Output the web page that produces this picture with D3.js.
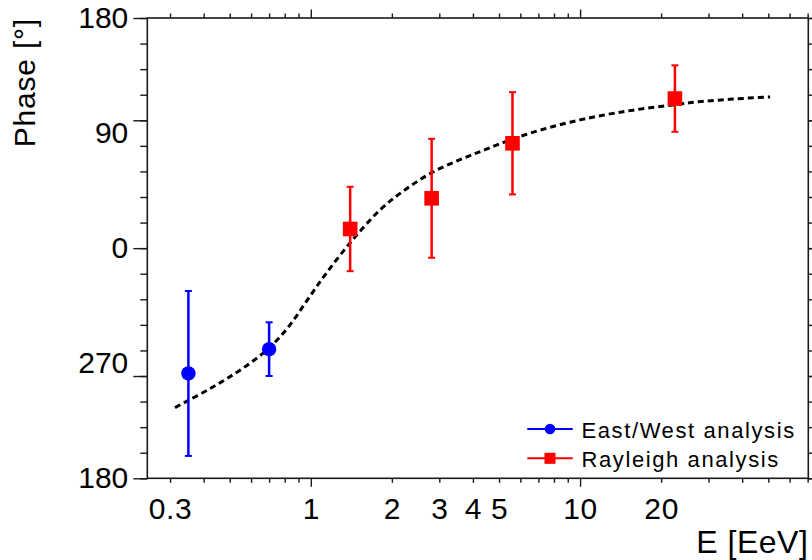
<!DOCTYPE html>
<html>
<head>
<meta charset="utf-8">
<script src="https://cdn.jsdelivr.net/npm/d3@7"></script>
<style>
  html, body { margin: 0; padding: 0; background: #fff; }
  svg { display: block; }
  text { font-family: "Liberation Sans", Arial, Helvetica, sans-serif; fill: #000; }
</style>
</head>
<body>
<svg id="chart" width="812" height="560"></svg>
<script>
// East/West analysis (energy in EeV, phase in degrees, symmetric error)
const ewEnergy = [0.351, 0.700];
const ewPhase  = [-98, -79];
const ewError  = [64.5, 21];

// Rayleigh analysis
const rayEnergy = [1.40, 2.81, 5.61, 22.5];
const rayPhase  = [15, 39, 82, 117];
const rayError  = [33, 46.5, 40, 26];

// Fitted phase curve, sampled along energy
const fitEnergy = [0.313, 0.350, 0.423, 0.502, 0.595, 0.700, 0.831, 0.977, 1.13, 1.40, 1.81, 2.24, 2.81, 3.58, 4.44, 5.59, 7.10, 9.18, 11.9, 15.7, 22.5, 27.9, 37.0, 50.8];
const fitPhase  = [-124.7, -119.2, -109.8, -100.4, -89.9, -78.1, -60.9, -39.7, -20.9, 4.2, 30.0, 45.7, 59.0, 69.2, 77.0, 85.2, 92.3, 98.5, 103.6, 107.9, 112.3, 114.6, 116.6, 118.3];

// Axis ticks
const xLabelValues = [0.3, 1, 2, 3, 4, 5, 10, 20];
const xMajorTicks  = [1, 10];
const xMinorTicks  = [0.3, 0.4, 0.5, 0.6, 0.7, 0.8, 0.9, 2, 3, 4, 5, 6, 7, 8, 9, 20, 30, 40, 50, 60, 70];
const yLabelValues = [180, 90, 0, -90, -180];
const yLabelText   = ["180", "90", "0", "270", "180"];
const yMajorTicks  = [180, 100, 0, -100, -180];
const yMinorTicks  = d3.range(-180, 181, 20);

const legendItems = [
  { label: "East/West analysis", color: "#0000ff", shape: "circle" },
  { label: "Rayleigh analysis",  color: "#ff0000", shape: "square" }
];

const svg = d3.select("#chart");
const plotLeft = 147.3, plotRight = 808.3, plotTop = 18, plotBottom = 478.3;

const x = d3.scaleLog().domain([0.247, 70.4]).range([plotLeft, plotRight]);
const y = d3.scaleLinear().domain([-180, 180]).range([plotBottom, plotTop]);

const axisColor = "#1a1a1a";
function styleAxis(g) {
  g.select(".domain").remove();
  g.selectAll(".tick line").attr("stroke", axisColor).attr("stroke-width", 1.4);
}

// Bottom axis
svg.append("g").attr("transform", `translate(0,${plotBottom})`)
  .call(d3.axisBottom(x).tickValues(xMinorTicks).tickSize(4.5).tickFormat(""))
  .call(styleAxis);
svg.append("g").attr("transform", `translate(0,${plotBottom})`)
  .call(d3.axisBottom(x).tickValues(xMajorTicks).tickSize(8.5).tickFormat(""))
  .call(styleAxis);
svg.append("g").attr("transform", `translate(0,${plotBottom})`)
  .call(d3.axisBottom(x).tickValues(xLabelValues).tickSize(0).tickPadding(19).tickFormat(d3.format("~g")))
  .call(g => g.select(".domain").remove())
  .call(g => g.selectAll("text").attr("font-size", 30).attr("fill", "#000")
    .style("font-family", '"Liberation Sans", Arial, sans-serif').attr("letter-spacing", 0.6));

// Top axis
svg.append("g").attr("transform", `translate(0,${plotTop})`)
  .call(d3.axisTop(x).tickValues(xMinorTicks).tickSize(4.5).tickFormat(""))
  .call(styleAxis);
svg.append("g").attr("transform", `translate(0,${plotTop})`)
  .call(d3.axisTop(x).tickValues(xMajorTicks).tickSize(8.5).tickFormat(""))
  .call(styleAxis);

// Left axis
svg.append("g").attr("transform", `translate(${plotLeft},0)`)
  .call(d3.axisLeft(y).tickValues(yMinorTicks).tickSize(7).tickFormat(""))
  .call(styleAxis);
svg.append("g").attr("transform", `translate(${plotLeft},0)`)
  .call(d3.axisLeft(y).tickValues(yMajorTicks).tickSize(14).tickFormat(""))
  .call(styleAxis);
svg.append("g").attr("transform", `translate(${plotLeft},0)`)
  .call(d3.axisLeft(y).tickValues(yLabelValues).tickSize(0).tickPadding(19)
    .tickFormat((d, i) => yLabelText[i]))
  .call(g => g.select(".domain").remove())
  .call(g => g.selectAll("text").attr("font-size", 30).attr("fill", "#000")
    .style("font-family", '"Liberation Sans", Arial, sans-serif'));

// Right axis
svg.append("g").attr("transform", `translate(${plotRight},0)`)
  .call(d3.axisRight(y).tickValues(yMinorTicks).tickSize(7).tickFormat(""))
  .call(styleAxis);
svg.append("g").attr("transform", `translate(${plotRight},0)`)
  .call(d3.axisRight(y).tickValues(yMajorTicks).tickSize(14).tickFormat(""))
  .call(styleAxis);

// Frame
svg.append("rect")
  .attr("x", plotLeft).attr("y", plotTop)
  .attr("width", plotRight - plotLeft).attr("height", plotBottom - plotTop)
  .attr("fill", "none").attr("stroke", axisColor).attr("stroke-width", 1.6);

// Axis titles
svg.append("text")
  .attr("transform", `translate(35,${plotTop}) rotate(-90)`)
  .attr("text-anchor", "end")
  .attr("font-size", 30)
  .attr("letter-spacing", 0.8)
  .text("Phase [°]");

svg.append("text")
  .attr("x", plotRight).attr("y", 553)
  .attr("text-anchor", "end")
  .attr("font-size", 32)
  .attr("letter-spacing", 0.5)
  .text("E [EeV]");

// Fitted curve
const fitPoints = fitEnergy.map((e, i) => [x(e), y(fitPhase[i])]);
svg.append("path")
  .attr("d", d3.line().curve(d3.curveCatmullRom.alpha(0.5))(fitPoints))
  .attr("fill", "none")
  .attr("stroke", "#000")
  .attr("stroke-width", 3)
  .attr("stroke-dasharray", "6,4");

// Error bars and markers
function drawSeries(energy, phase, err, color, shape) {
  const g = svg.append("g");
  energy.forEach((e, i) => {
    const cx = x(e);
    const y0 = y(phase[i] - err[i]);
    const y1 = y(phase[i] + err[i]);
    g.append("line").attr("x1", cx).attr("x2", cx).attr("y1", y0).attr("y2", y1)
      .attr("stroke", color).attr("stroke-width", 2.5);
    [y0, y1].forEach(yy => g.append("line")
      .attr("x1", cx - 3.5).attr("x2", cx + 3.5).attr("y1", yy).attr("y2", yy)
      .attr("stroke", color).attr("stroke-width", 2));
    const cy = y(phase[i]);
    if (shape === "circle") {
      g.append("circle").attr("cx", cx).attr("cy", cy).attr("r", 7.2).attr("fill", color);
    } else {
      g.append("rect").attr("x", cx - 7.3).attr("y", cy - 7.3)
        .attr("width", 14.6).attr("height", 14.6).attr("fill", color);
    }
  });
}
drawSeries(ewEnergy, ewPhase, ewError, "#0000ff", "circle");
drawSeries(rayEnergy, rayPhase, rayError, "#ff0000", "square");

// Legend
const legend = svg.append("g");
legendItems.forEach((item, i) => {
  const ly = 429 + i * 29.3;
  legend.append("line").attr("x1", 527.3).attr("x2", 572.7).attr("y1", ly).attr("y2", ly)
    .attr("stroke", item.color).attr("stroke-width", 2);
  if (item.shape === "circle") {
    legend.append("circle").attr("cx", 550).attr("cy", ly).attr("r", 5.3).attr("fill", item.color);
  } else {
    legend.append("rect").attr("x", 544.5).attr("y", ly - 5.5).attr("width", 11).attr("height", 11)
      .attr("fill", item.color);
  }
  legend.append("text")
    .attr("x", 581.5).attr("y", ly + 8.5)
    .attr("font-size", 22)
    .attr("letter-spacing", 1.6)
    .text(item.label);
});
</script>
</body>
</html>
